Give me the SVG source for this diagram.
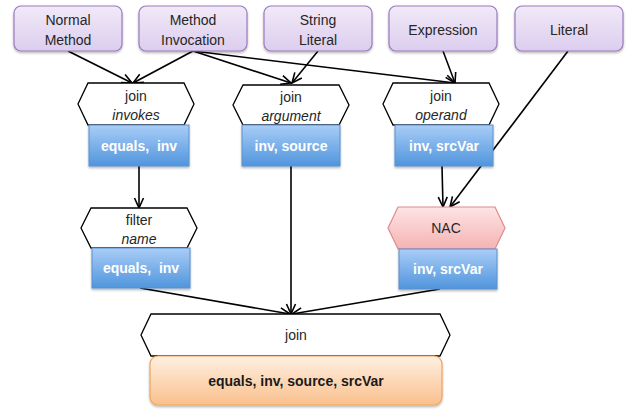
<svg xmlns="http://www.w3.org/2000/svg" width="627" height="410" viewBox="0 0 627 410">
  <defs>
    <linearGradient id="gPurple" x1="0" y1="0" x2="0" y2="1">
      <stop offset="0" stop-color="#F1EAF8"/>
      <stop offset="1" stop-color="#DCCDEE"/>
    </linearGradient>
    <linearGradient id="gBlue" x1="0" y1="0" x2="0" y2="1">
      <stop offset="0" stop-color="#A9CDF7"/>
      <stop offset="1" stop-color="#5095DC"/>
    </linearGradient>
    <linearGradient id="gPink" x1="0" y1="0" x2="0" y2="1">
      <stop offset="0" stop-color="#FDE4E4"/>
      <stop offset="1" stop-color="#F5B3B3"/>
    </linearGradient>
    <linearGradient id="gOrange" x1="0" y1="0" x2="0" y2="1">
      <stop offset="0" stop-color="#FFF0E2"/>
      <stop offset="1" stop-color="#F9C08C"/>
    </linearGradient>
    <filter id="shadow" x="-10%" y="-10%" width="130%" height="140%">
      <feDropShadow dx="0" dy="1.5" stdDeviation="1.2" flood-color="#000" flood-opacity="0.3"/>
    </filter>
    <marker id="arrow" viewBox="0 0 12 12" refX="11" refY="6" markerWidth="12" markerHeight="12" markerUnits="userSpaceOnUse" orient="auto">
      <path d="M1,1.5 L11,6 L1,10.5" fill="none" stroke="#000" stroke-width="1.6"/>
    </marker>
  </defs>
  <style>
    .src { fill: url(#gPurple); stroke: #9A7BBE; stroke-width: 1.2; filter: url(#shadow); }
    .blue { fill: url(#gBlue); stroke: #5A90D0; stroke-width: 1; filter: url(#shadow); }
    .hex { fill: #FFFFFF; stroke: #000; stroke-width: 1.3; }
    .nac { fill: url(#gPink); stroke: #E08A8A; stroke-width: 1.2; }
    .out { fill: url(#gOrange); stroke: #F0A45E; stroke-width: 1.2; filter: url(#shadow); }
    text { font-family: "Liberation Sans", Arial, sans-serif; font-size: 14px; fill: #262626; text-anchor: middle; white-space: pre; }
    .it { font-style: italic; }
    .bw { font-weight: bold; fill: #FFFFFF; }
    .bk { font-weight: bold; fill: #1A1A1A; }
    .edge { stroke: #000; stroke-width: 1.6; fill: none; marker-end: url(#arrow); }
  </style>

  <!-- connectors -->
  <g id="connectors">
    <line class="edge" x1="68" y1="51" x2="132" y2="83"/>
    <line class="edge" x1="193" y1="51" x2="133" y2="83"/>
    <line class="edge" x1="193" y1="51" x2="291" y2="83"/>
    <line class="edge" x1="193" y1="51" x2="455" y2="83"/>
    <line class="edge" x1="318" y1="51" x2="292" y2="83"/>
    <line class="edge" x1="443" y1="51" x2="455" y2="83"/>
    <line class="edge" x1="568" y1="51" x2="450" y2="207"/>
    <line class="edge" x1="442" y1="166" x2="443" y2="207"/>
    <line class="edge" x1="139" y1="166" x2="139" y2="208"/>
    <line class="edge" x1="291" y1="166" x2="291" y2="314"/>
    <line class="edge" x1="140" y1="288" x2="290" y2="314"/>
    <line class="edge" x1="440" y1="289" x2="292" y2="314"/>
  </g>

  <!-- source patterns -->
  <g id="normal-method">
    <rect class="src" x="14" y="6" width="108" height="45" rx="7"/>
    <text x="68" y="25">Normal</text>
    <text x="68" y="45">Method</text>
  </g>
  <g id="method-invocation">
    <rect class="src" x="139" y="6" width="108" height="45" rx="7"/>
    <text x="193" y="25">Method</text>
    <text x="193" y="45">Invocation</text>
  </g>
  <g id="string-literal">
    <rect class="src" x="264" y="6" width="108" height="45" rx="7"/>
    <text x="318" y="25">String</text>
    <text x="318" y="45">Literal</text>
  </g>
  <g id="expression">
    <rect class="src" x="389" y="6" width="108" height="45" rx="7"/>
    <text x="443" y="35">Expression</text>
  </g>
  <g id="literal">
    <rect class="src" x="515" y="6" width="108" height="45" rx="7"/>
    <text x="569" y="35">Literal</text>
  </g>

  <!-- join on invokes -->
  <g id="join-invokes">
    <polygon class="hex" points="88,83 184,83 194,104 184,125 88,125 78,104"/>
    <text x="136" y="101">join</text>
    <text class="it" x="136" y="120">invokes</text>
    <rect class="blue" x="89" y="125" width="100" height="41"/>
    <text class="bw" x="139" y="151" xml:space="preserve">equals,  inv</text>
  </g>

  <!-- join on argument -->
  <g id="join-argument">
    <polygon class="hex" points="243,85 339,85 349,105 339,125 243,125 233,105"/>
    <text x="291" y="102">join</text>
    <text class="it" x="291" y="121">argument</text>
    <rect class="blue" x="242" y="125" width="98" height="41"/>
    <text class="bw" x="291" y="151">inv, source</text>
  </g>

  <!-- join on operand -->
  <g id="join-operand">
    <polygon class="hex" points="393,83 489,83 499,104 489,125 393,125 383,104"/>
    <text x="441" y="101">join</text>
    <text class="it" x="441" y="120">operand</text>
    <rect class="blue" x="395" y="125" width="98" height="41"/>
    <text class="bw" x="444" y="151">inv, srcVar</text>
  </g>

  <!-- filter on name -->
  <g id="filter-name">
    <polygon class="hex" points="91,208 187,208 197,228 187,248 91,248 81,228"/>
    <text x="139" y="225">filter</text>
    <text class="it" x="139" y="244">name</text>
    <rect class="blue" x="92" y="248" width="98" height="40"/>
    <text class="bw" x="141" y="273" xml:space="preserve">equals,  inv</text>
  </g>

  <!-- negative application condition -->
  <g id="nac">
    <polygon class="nac" points="398,207 495,207 505,228 495,249 398,249 388,228"/>
    <text x="446" y="233">NAC</text>
    <rect class="blue" x="399" y="249" width="98" height="40"/>
    <text class="bw" x="448" y="274">inv, srcVar</text>
  </g>

  <!-- final join -->
  <g id="join-final">
    <polygon class="hex" points="151,314 440,314 450,335 440,356 151,356 141,335"/>
    <text x="296" y="340">join</text>
    <rect class="out" x="150" y="356" width="292" height="49" rx="8"/>
    <text class="bk" x="296" y="386">equals, inv, source, srcVar</text>
  </g>
</svg>
